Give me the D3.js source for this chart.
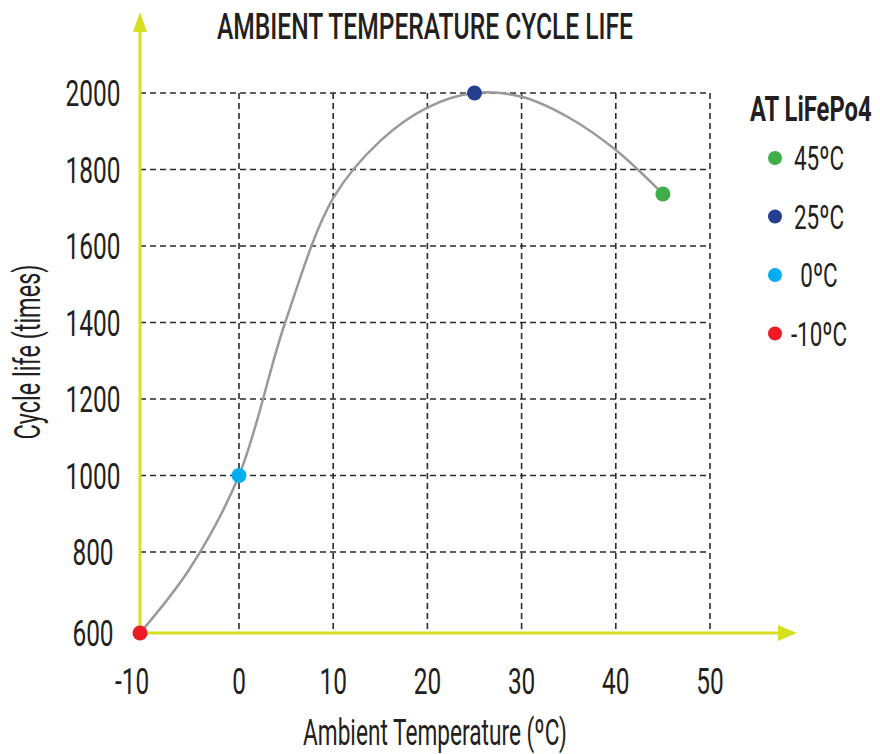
<!DOCTYPE html>
<html>
<head>
<meta charset="utf-8">
<script src="https://cdn.jsdelivr.net/npm/d3@7"></script>
<style>
  html, body { margin: 0; padding: 0; background: #fff; }
  text { font-family: Roboto, "Liberation Sans", sans-serif; fill: #231f20; }
</style>
</head>
<body>
<svg id="chart" width="880" height="754"></svg>
<script>
// ---- data ----
const chartTitle = "AMBIENT TEMPERATURE CYCLE LIFE";
const xTitle = "Ambient Temperature (ºC)";
const yTitle = "Cycle life (times)";
const legendTitle = "AT LiFePo4";

// measured points
const pointTemps = [-10, 0, 25, 45];
const pointCycles = [600, 1000, 2000, 1736];
const pointColors = ["#ed1c24", "#00aeef", "#243f8f", "#3fae49"];

// legend (top to bottom)
const legendLabels = ["45ºC", "25ºC", "0ºC", "-10ºC"];
const legendColors = ["#3fae49", "#243f8f", "#00aeef", "#ed1c24"];

// smoothed curve
const curveTemps  = [-10, -5, 0, 4.9, 10, 15, 20, 25, 30, 35, 40, 45];
const curveCycles = [600, 758, 1000, 1400, 1725, 1875, 1962, 2000, 1990, 1936, 1851, 1736];

// ticks
const xTicks = [-10, 0, 10, 20, 30, 40, 50];
const yTicks = [600, 800, 1000, 1200, 1400, 1600, 1800, 2000];

// ---- drawing ----
const svg = d3.select("#chart");
const x = d3.scaleLinear().domain([-10, 0, 50]).range([140, 239, 710]);
const y = d3.scaleLinear().domain([600, 800, 2000]).range([633, 552, 93]);
const axisColor = "#d7df23";
const SX = 0.66;

// grid
const grid = svg.append("g").attr("stroke", "#2b2b2b").attr("stroke-width", 1.6).attr("stroke-dasharray", "6,4");
grid.selectAll("line.v").data(xTicks.filter(d => d > -10)).join("line")
  .attr("x1", d => x(d)).attr("x2", d => x(d))
  .attr("y1", y(2000)).attr("y2", y(600));
grid.selectAll("line.h").data(yTicks.filter(d => d > 600)).join("line")
  .attr("x1", x(-10)).attr("x2", x(50))
  .attr("y1", d => y(d)).attr("y2", d => y(d));

// axes (yellow with arrows)
const ax = svg.append("g");
ax.append("line").attr("x1", x(-10)).attr("x2", 778).attr("y1", y(600)).attr("y2", y(600))
  .attr("stroke", axisColor).attr("stroke-width", 3);
ax.append("path").attr("d", `M778,${y(600) - 8}L797,${y(600)}L778,${y(600) + 8}Z`).attr("fill", axisColor);
ax.append("line").attr("x1", x(-10)).attr("x2", x(-10)).attr("y1", y(600) + 1.5).attr("y2", 31)
  .attr("stroke", axisColor).attr("stroke-width", 3);
ax.append("path").attr("d", `M${x(-10) - 7},32L${x(-10)},12L${x(-10) + 7},32Z`).attr("fill", axisColor);

// curve
const curveData = curveTemps.map((t, i) => [t, curveCycles[i]]);
svg.append("path")
  .datum(curveData)
  .attr("fill", "none")
  .attr("stroke", "#999a9c")
  .attr("stroke-width", 2.5)
  .attr("d", d3.line().x(d => x(d[0])).y(d => y(d[1])).curve(d3.curveCatmullRom.alpha(0.5)));

// points
svg.append("g").selectAll("circle")
  .data(pointTemps.map((t, i) => ({ t, c: pointCycles[i], col: pointColors[i] })))
  .join("circle")
  .attr("cx", d => x(d.t)).attr("cy", d => y(d.c)).attr("r", 7.5)
  .attr("fill", d => d.col);

// text helper (condensed via horizontal scale)
function label(sel, px, py, str, size, anchor, weight, sx) {
  return sel.append("text")
    .attr("transform", `translate(${px},${py}) scale(${sx || SX},1)`)
    .attr("text-anchor", anchor || "middle")
    .style("font-size", size + "px")
    .style("font-weight", weight || "normal")
    .text(str);
}
const tl = svg.append("g");
xTicks.forEach(d => {
  const t = label(tl, x(d), 694, String(d), 37);
  if (d < 0) t.attr("dx", -12);
});
yTicks.forEach(d => label(tl, 93, y(d) + 13, String(d), 37));

// titles
svg.append("text").attr("x", 425).attr("y", 38.5).attr("text-anchor", "middle")
  .attr("textLength", 416).attr("lengthAdjust", "spacingAndGlyphs")
  .style("font-size", "36px").style("font-weight", 500).text(chartTitle);
svg.append("text").attr("x", 435).attr("y", 745).attr("text-anchor", "middle")
  .attr("textLength", 264).attr("lengthAdjust", "spacingAndGlyphs")
  .style("font-size", "36px").text(xTitle);
svg.append("text").attr("transform", "translate(40,352) rotate(-90)").attr("text-anchor", "middle")
  .attr("textLength", 175).attr("lengthAdjust", "spacingAndGlyphs")
  .style("font-size", "36px").text(yTitle);

// legend
const lg = svg.append("g");
label(lg, 750, 121, legendTitle, 35, "start", "bold", 0.68);
legendLabels.forEach((lab, i) => {
  const cy = 158 + i * 58.5;
  lg.append("circle").attr("cx", 775).attr("cy", cy).attr("r", 7).attr("fill", legendColors[i]);
  label(lg, 819, cy + 12, lab, 34);
});
</script>
</body>
</html>
